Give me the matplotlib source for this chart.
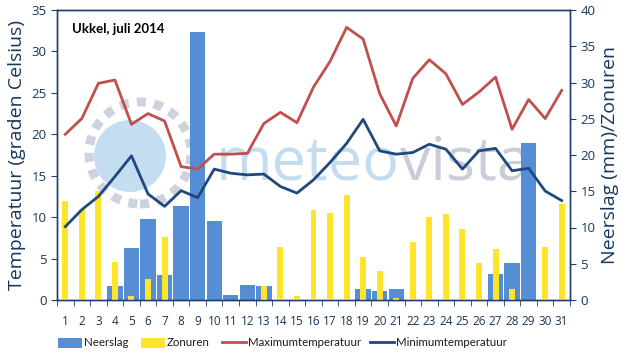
import matplotlib
matplotlib.use("Agg")
import matplotlib.pyplot as plt
import numpy as np
from matplotlib.patches import Circle, Patch
from matplotlib.lines import Line2D
from matplotlib.transforms import IdentityTransform

days = list(range(1, 32))
neerslag = [0, 0, 0, 1.9, 7.2, 11.2, 3.5, 13.0, 37.0, 10.9, 0.7, 2.1, 1.9, 0, 0, 0, 0, 0,
            1.5, 1.2, 1.5, 0, 0, 0, 0, 0, 3.6, 5.1, 21.7, 0, 0]
zonuren = [13.7, 12.5, 15.0, 5.2, 0.5, 2.9, 8.7, 0, 0, 0, 0, 0, 1.9, 7.3, 0.5, 12.4, 12.0,
           14.5, 5.9, 4.0, 0.3, 8.0, 11.5, 11.9, 9.8, 5.1, 7.0, 1.5, 0, 7.3, 13.2]
tmax = [20.0, 21.9, 26.15, 26.55, 21.2, 22.5, 21.6, 16.1, 15.8, 17.6, 17.6, 17.7, 21.3, 22.65,
        21.4, 25.7, 28.8, 32.9, 31.5, 24.9, 21.0, 26.75, 29.0, 27.3, 23.6, 25.1, 26.9, 20.6,
        24.2, 21.9, 25.3]
tmin = [8.85, 10.9, 12.5, 14.9, 17.4, 12.8, 11.3, 13.2, 12.35, 15.8, 15.3, 15.1, 15.2, 13.7,
        12.9, 14.5, 16.6, 18.9, 21.8, 18.0, 17.6, 17.8, 18.8, 18.2, 15.8, 18.0, 18.3, 15.6,
        15.9, 13.15, 12.0]

title = "Ukkel, juli 2014"
labels = ["Neerslag", "Zonuren", "Maximumtemperatuur", "Minimumtemperatuur"]

c_blue = "#558ED5"
c_yellow = "#FFE529"
c_red = "#C0504D"
c_navy = "#1F497D"
c_axis = "#1F3F6F"
c_label = "#17375E"

plt.rcParams['font.family'] = ['Open Sans', 'DejaVu Sans']

W, H = 622, 358
fig = plt.figure(figsize=(6.22, 3.58), dpi=100, facecolor="white")
axR = fig.add_axes([57/W, 1-300/H, 513/W, 290/H])
axL = axR.twinx()
axL.set_zorder(axR.get_zorder() + 1)
axL.patch.set_visible(False)
axR.patch.set_visible(False)

# watermark (pixel coordinates, origin bottom-left)
fig.patches.append(Circle((140, H - 153), 51, transform=IdentityTransform(), facecolor="none",
                          edgecolor="#CDD2DE", linewidth=6.5, linestyle=(0, (1.0, 0.9)),
                          zorder=-2))
fig.patches.append(Circle((130, H - 156), 36, transform=IdentityTransform(),
                          facecolor="#C4DDF0", edgecolor="none", zorder=-2))
t1 = fig.text(216/W, 1-179/H, "meteo", fontsize=44, color="#C3DCEF",
              family="Open Sans", zorder=-1, va="baseline")
fig.canvas.draw()
bb = t1.get_window_extent()
fig.text(bb.x1/W, 1-179/H, "vista", fontsize=44, color="#C9CDDA",
         family="Open Sans", zorder=-1, va="baseline")

x = np.array(days)
axR.bar(x, neerslag, width=0.93, color=c_blue, zorder=2)
axR.bar(x, zonuren, width=0.36, color=c_yellow, zorder=3)
axL.plot(x, tmax, color=c_red, linewidth=2.0, zorder=4)
axL.plot(x, tmin, color=c_navy, linewidth=2.0, zorder=4)

axL.yaxis.set_ticks_position("left")
axL.yaxis.set_label_position("left")
axR.yaxis.set_ticks_position("right")
axR.yaxis.set_label_position("right")

axL.set_ylim(0, 35)
axL.set_yticks(range(0, 36, 5))
axR.set_ylim(0, 40)
axR.set_yticks(range(0, 41, 5))
axR.set_xlim(0.5, 31.5)
axL.set_xlim(0.5, 31.5)

axR.set_xticks(x)
axR.set_xticklabels([str(d) for d in days], fontsize=8.5, color=c_label)
axR.set_xticks(np.arange(0.5, 32, 1), minor=True)
axR.tick_params(axis="x", which="major", length=0, pad=11)
axR.tick_params(axis="x", which="minor", length=4, direction="out", color=c_axis)
axL.tick_params(axis="x", which="both", bottom=False, labelbottom=False)

axL.tick_params(axis="y", length=4, direction="out", color=c_axis, labelsize=9.5,
                labelcolor=c_label)
axR.tick_params(axis="y", length=4, direction="out", color=c_axis, labelsize=9.5,
                labelcolor=c_label)

for a in (axL, axR):
    for s in a.spines.values():
        s.set_color(c_axis)
        s.set_linewidth(1.0)

axL.set_ylabel("Temperatuur (graden Celsius)", fontsize=14, color=c_label, labelpad=4)
axR.set_ylabel("Neerslag (mm)/Zonuren", fontsize=14, color=c_label, labelpad=4)

axL.text(0.03, 0.935, title, transform=axL.transAxes, fontsize=9.5, fontweight="bold",
         family="Lato", color="black", va="center", ha="left")

handles = [Patch(facecolor=c_blue), Patch(facecolor=c_yellow),
           Line2D([], [], color=c_red, linewidth=2), Line2D([], [], color=c_navy, linewidth=2)]
leg_x = [58, 141, 222, 370]
for h, lab, lx in zip(handles, labels, leg_x):
    fig.legend([h], [lab], loc="center left", bbox_to_anchor=(lx/W, 1-343/H),
               frameon=False, prop={"family": "Lato", "size": 8.3}, handlelength=2.05,
               handleheight=0.95, handletextpad=0.2, labelcolor="#1a1a1a",
               borderpad=0, borderaxespad=0)

fig.savefig("out.png", dpi=100, facecolor="white")
